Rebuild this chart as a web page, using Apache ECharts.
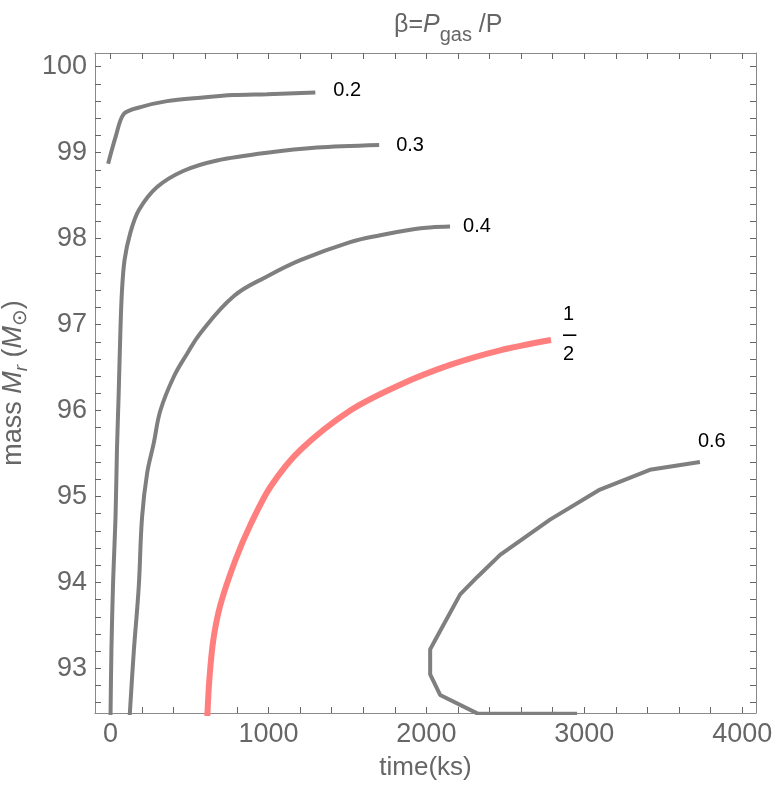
<!DOCTYPE html>
<html>
<head>
<meta charset="utf-8">
<script src="https://cdn.jsdelivr.net/npm/echarts@6/dist/echarts.min.js"></script>
<style>
  html, body { margin: 0; padding: 0; background: #fff; }
  #main { width: 781px; height: 790px; }
</style>
</head>
<body>
<div id="main"></div>
<script>
// contour values (time in ks, mass in Msun)
var t02 = [-15, 32, 84, 190, 358, 569, 779, 991, 1297];
var m02 = [98.87, 99.18, 99.45, 99.53, 99.60, 99.64, 99.67, 99.68, 99.70];

var t03 = [0, 6, 17, 32, 41, 52, 63, 73, 89, 126, 179, 295, 464, 675, 991, 1307, 1701];
var m03 = [92.40, 93.22, 94.03, 94.76, 95.54, 96.20, 96.94, 97.40, 97.75, 98.07, 98.33, 98.60, 98.79, 98.91, 99.00, 99.06, 99.09];

var t04 = [120, 147, 179, 200, 232, 274, 316, 400, 485, 569, 780, 991, 1202, 1518, 1708, 1918, 2024, 2150];
var m04 = [92.40, 93.18, 93.95, 94.76, 95.27, 95.62, 96.00, 96.39, 96.66, 96.90, 97.33, 97.56, 97.75, 97.96, 98.04, 98.11, 98.13, 98.14];

var t05 = [612, 626, 651, 696, 791, 886, 1012, 1202, 1518, 1834, 2150, 2467, 2789];
var m05 = [92.40, 92.87, 93.33, 93.74, 94.26, 94.67, 95.11, 95.54, 96.00, 96.30, 96.53, 96.70, 96.82];

var t06 = [2954, 2328, 2087, 2024, 2024, 2056, 2214, 2321, 2467, 2783, 3099, 3415, 3732];
var m06 = [92.47, 92.47, 92.69, 92.93, 93.22, 93.33, 93.86, 94.06, 94.32, 94.73, 95.08, 95.31, 95.40];

var xMajor = [0, 1000, 2000, 3000, 4000];
var xMinor = [200, 400, 600, 800, 1200, 1400, 1600, 1800, 2200, 2400, 2600, 2800, 3200, 3400, 3600, 3800];
var yMajor = [93, 94, 95, 96, 97, 98, 99, 100];
var yMinor = [92.6, 92.8, 93.2, 93.4, 93.6, 93.8, 94.2, 94.4, 94.6, 94.8, 95.2, 95.4, 95.6, 95.8,
              96.2, 96.4, 96.6, 96.8, 97.2, 97.4, 97.6, 97.8, 98.2, 98.4, 98.6, 98.8, 99.2, 99.4, 99.6, 99.8];

function pairs(xs, ys) {
  return xs.map(function (x, i) { return [x, ys[i]]; });
}

var frame = '#8a8a8a';
var tickGray = '#666666';
var xr = { min: -98, max: 4087 };
var yr = { min: 92.48, max: 100.16 };

function plain(v) { return String(v); }

// one axis per side of the frame, ticks pointing inwards
function ax(range, major, minor, labels, extra) {
  var a = {
    type: 'value', min: range.min, max: range.max,
    splitLine: { show: false },
    axisLine: { show: true, onZero: false, lineStyle: { color: frame, width: 1 } },
    axisTick: { show: true, inside: true, length: 6, customValues: major.concat(minor), lineStyle: { color: tickGray } },
    axisLabel: labels ? { show: true, customValues: major, formatter: plain, color: tickGray, fontSize: 27, fontFamily: 'Liberation Sans', margin: 8 } : { show: false }
  };
  return Object.assign(a, extra || {});
}

function curve(name, xs, ys, color, width, smooth, lbl) {
  return {
    name: name, type: 'line', xAxisIndex: 0, yAxisIndex: 0,
    data: pairs(xs, ys), showSymbol: false, smooth: smooth,
    lineStyle: { color: color, width: width, cap: 'butt' },
    endLabel: lbl, silent: true, animation: false
  };
}

function lbl(text, dx, dy) {
  return {
    show: true, formatter: text, offset: [dx, dy], color: '#000',
    fontSize: 20, fontFamily: 'Liberation Sans', align: 'left', verticalAlign: 'middle',
    lineHeight: 20,
    rich: { bar: { fontSize: 24, lineHeight: 20, color: '#000' } }
  };
}

var g = { color: tickGray, fontFamily: 'Liberation Sans', fontWeight: 'normal' };
function st(o) { return Object.assign({}, g, o); }

var chart = echarts.init(document.getElementById('main'));
chart.setOption({
  backgroundColor: '#fff',
  animation: false,
  title: {
    text: '{n|β=}{i|P}{s|gas}{n| /P}',
    left: 389, top: 0,
    textStyle: {
      fontWeight: 'normal',
      rich: {
        n: st({ fontSize: 25, lineHeight: 40, verticalAlign: 'middle' }),
        i: st({ fontSize: 25, fontStyle: 'italic', lineHeight: 40, verticalAlign: 'middle' }),
        s: st({ fontSize: 20, lineHeight: 18, verticalAlign: 'bottom' })
      }
    }
  },
  grid: { left: 95, top: 53, right: 25, bottom: 77, outerBoundsMode: 'none' },
  xAxis: [
    ax(xr, xMajor, xMinor, true, {
      name: 'time(ks)', nameLocation: 'middle', nameGap: 42,
      nameTextStyle: st({ fontSize: 26 })
    }),
    ax(xr, xMajor, xMinor, false)
  ],
  yAxis: [
    ax(yr, yMajor, yMinor, true, {
      name: '{n|mass }{i|M}{s|r}{n| (}{i|M}{o|⊙}{n|)}', nameLocation: 'middle', nameGap: 58,
      nameTextStyle: {
        rich: {
          n: st({ fontSize: 27, lineHeight: 36, verticalAlign: 'middle' }),
          i: st({ fontSize: 27, fontStyle: 'italic', lineHeight: 36, verticalAlign: 'middle' }),
          s: st({ fontSize: 19, fontStyle: 'italic', lineHeight: 18, verticalAlign: 'bottom' }),
          o: st({ fontSize: 20, fontFamily: 'DejaVu Sans', lineHeight: 20, verticalAlign: 'bottom' })
        }
      }
    }),
    ax(yr, yMajor, yMinor, false)
  ],
  series: [
    curve('0.2', t02, m02, '#7f7f7f', 4, 0.3, lbl('0.2', 10, -2)),
    curve('0.3', t03, m03, '#7f7f7f', 4, 0.3, lbl('0.3', 9, 1)),
    curve('0.4', t04, m04, '#7f7f7f', 4, 0.4, lbl('0.4', 5, 0)),
    curve('1/2', t05, m05, '#ff7f7f', 6, 0.3, lbl('1\n{bar|–}\n2', 4, -6)),
    curve('0.6', t06, m06, '#7f7f7f', 4, false, lbl('0.6', -10, -21))
  ]
});
</script>
</body>
</html>
